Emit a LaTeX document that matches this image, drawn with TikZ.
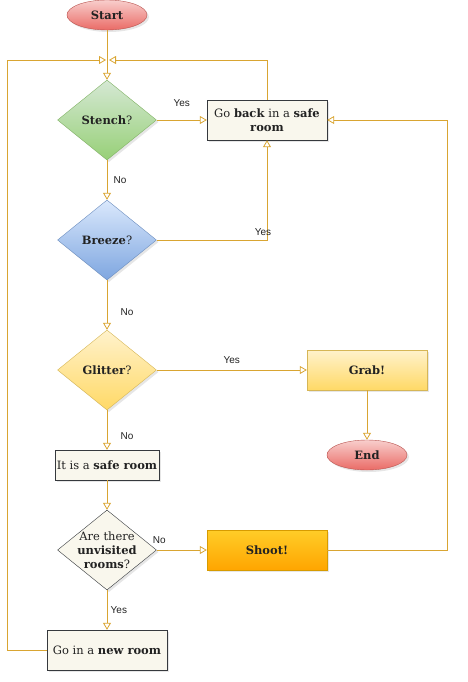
\documentclass[tikz,border=0pt]{standalone}
\usepackage{fontspec}
\setmainfont{DejaVu Serif}
\newfontfamily\lblfont{Liberation Sans}
\usetikzlibrary{shapes.geometric, arrows.meta, shadows}

\definecolor{wire}{HTML}{D9A532}
\definecolor{boxfill}{HTML}{F9F7ED}
\definecolor{boxline}{HTML}{36393D}
\definecolor{txt}{HTML}{222222}
\definecolor{redtop}{HTML}{F8CECC}
\definecolor{redbot}{HTML}{EA6B66}
\definecolor{redline}{HTML}{B85450}
\definecolor{greentop}{HTML}{D5E8D4}
\definecolor{greenbot}{HTML}{97D077}
\definecolor{greenline}{HTML}{82B366}
\definecolor{bluetop}{HTML}{DAE8FC}
\definecolor{bluebot}{HTML}{7EA6E0}
\definecolor{blueline}{HTML}{6C8EBF}
\definecolor{goldtop}{HTML}{FFF2CC}
\definecolor{goldbot}{HTML}{FFD966}
\definecolor{goldline}{HTML}{D6B656}
\definecolor{orangetop}{HTML}{FFCD28}
\definecolor{orangebot}{HTML}{FFA500}
\definecolor{orangeline}{HTML}{D79B00}

\begin{document}
\begin{tikzpicture}[x=1pt, y=-1pt, font=\fontsize{11.5}{14}\selectfont, text=txt,
    shade/.style={drop shadow={opacity=0.2, shadow xshift=2pt, shadow yshift=-2pt}},
    box/.style={draw=boxline, fill=boxfill, minimum width=120pt, minimum height=40pt, align=center, inner sep=2pt, shade},
    term/.style={ellipse, draw=redline, top color=redtop, bottom color=redbot, minimum width=80pt, minimum height=30pt, inner sep=0pt, shade},
    choice/.style={diamond, draw=#1line, top color=#1top, bottom color=#1bot, minimum width=99pt, minimum height=80pt, inner sep=0pt, aspect=1.24, align=center, shade},
    lbl/.style={font=\lblfont\fontsize{10}{12}\selectfont, text=txt},
    flow/.style={draw=wire, line width=0.8pt},
    >={Triangle[open, length=7pt, width=8pt]}]
    \useasboundingbox (0,0) rectangle (467,682);

    \node[term] (start) at (107,15) {\textbf{Start}};
    \coordinate (join) at (107,60);
    \node[choice=green] (stench) at (107,120) {\textbf{Stench}?};
    \node[box] (back) at (267,120) {Go \textbf{back} in a \textbf{safe}\\\textbf{room}};
    \node[choice=blue] (breeze) at (107,240) {\textbf{Breeze}?};
    \node[choice=gold] (glitter) at (107,370) {\textbf{Glitter}?};
    \node[box, draw=goldline, top color=goldtop, bottom color=goldbot] (grab) at (367,370) {\textbf{Grab!}};
    \node[term] (end) at (367,455) {\textbf{End}};
    \node[box, minimum width=100pt, minimum height=30pt] (safe) at (107,465) {It is a \textbf{safe room}};
    \node[diamond, draw=boxline, fill=boxfill, minimum width=99pt, minimum height=80pt, aspect=1.24, inner sep=-10pt, align=center, shade] (unvisited) at (107,550) {Are there\\\textbf{unvisited}\\\textbf{rooms}?};
    \node[box, draw=orangeline, top color=orangetop, bottom color=orangebot] (shoot) at (267,550) {\textbf{Shoot!}};
    \node[box] (new) at (107,650) {Go in a \textbf{new room}};

    \draw[flow] (start) -- (join);
    \draw[flow, ->] (join) -- (stench);
    \draw[flow, ->] (stench) -- (back) node[lbl, midway, above=10pt] {Yes};
    \draw[flow, ->] (back.north) |- ([xshift=2pt]join);
    \draw[flow, ->] (stench) -- (breeze) node[lbl, midway, right=3pt] {No};
    \draw[flow, ->] (breeze) -| (back) node[lbl, pos=0.5, above=1pt, xshift=-4pt] {Yes};
    \draw[flow, ->] (breeze) -- (glitter) node[lbl, pos=0.65, right=10pt] {No};
    \draw[flow, ->] (glitter) -- (grab) node[lbl, midway, above=3pt] {Yes};
    \draw[flow, ->] (grab) -- (end);
    \draw[flow, ->] (glitter) -- (safe) node[lbl, pos=0.65, right=10pt] {No};
    \draw[flow, ->] (safe) -- (unvisited);
    \draw[flow, ->] (unvisited) -- (shoot) node[lbl, pos=0.05, above=3pt] {No};
    \draw[flow, ->] (shoot.east) -- ++(120,0) |- (back.east);
    \draw[flow, ->] (unvisited) -- (new) node[lbl, midway, right=0pt] {Yes};
    \draw[flow, ->] (new.west) -- ++(-39,0) |- ([xshift=-1pt]join);
\end{tikzpicture}
\end{document}
